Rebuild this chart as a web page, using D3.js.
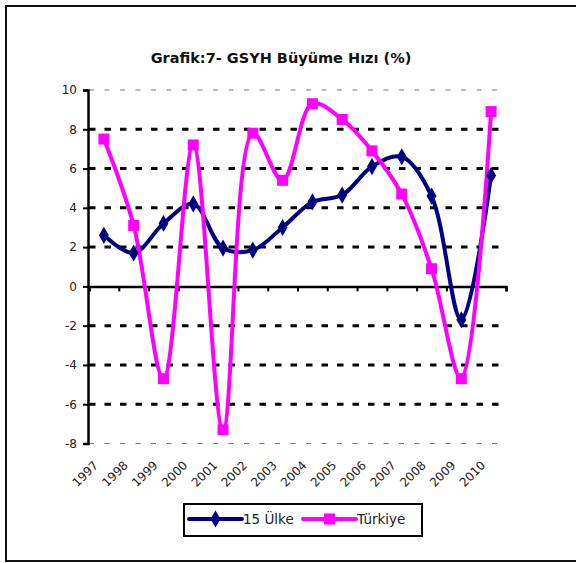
<!DOCTYPE html>
<html>
<head>
<meta charset="utf-8">
<script src="https://cdn.jsdelivr.net/npm/d3@7"></script>
<style>
  body { margin: 0; background: #fff; }
  text { font-family: "DejaVu Sans", sans-serif; }
</style>
</head>
<body>
<div id="chart"></div>
<script>
// Data
var years = ["1997", "1998", "1999", "2000", "2001", "2002", "2003",
             "2004", "2005", "2006", "2007", "2008", "2009", "2010"];
var ulke15 = [2.6, 1.7, 3.2, 4.2, 1.95, 1.85, 3.0, 4.3, 4.65, 6.1, 6.6, 4.6, -1.7, 5.65];
var turkiye = [7.5, 3.1, -4.7, 7.2, -7.3, 7.8, 5.4, 9.3, 8.5, 6.9, 4.7, 0.9, -4.7, 8.9];
var yTicks = [-8, -6, -4, -2, 0, 2, 4, 6, 8, 10];
var seriesNames = ["15 Ülke", "Türkiye"];

// Set up chart
var svgWidth = 576;
var svgHeight = 563;
var plot = { left: 89, right: 506, top: 90, bottom: 443.5 };

var svg = d3.select("#chart")
  .append("svg")
  .attr("width", svgWidth)
  .attr("height", svgHeight);

// outer frame (right edge runs off the picture)
svg.append("rect")
  .attr("x", 6).attr("y", 6)
  .attr("width", 600).attr("height", 555)
  .attr("fill", "none")
  .attr("stroke", "#111")
  .attr("stroke-width", 2);

// title
svg.append("text")
  .attr("x", 281)
  .attr("y", 63)
  .attr("text-anchor", "middle")
  .style("font-size", "14.5px")
  .style("font-weight", "bold")
  .attr("fill", "#111")
  .text("Grafik:7- GSYH Büyüme Hızı (%)");

// Scales
var xBand = d3.scaleBand()
  .domain(years)
  .range([plot.left, plot.right]);
var xTickScale = d3.scaleLinear()
  .domain([0, years.length])
  .range([plot.left, plot.right]);
var yScale = d3.scaleLinear()
  .domain([-8, 10])
  .range([plot.bottom, plot.top]);
var cx = function(d, i) { return xBand(years[i]) + xBand.bandwidth() / 2; };

// gridlines
var grid = svg.append("g");
grid.selectAll("line")
  .data(yTicks.filter(d => d !== 0))
  .enter()
  .append("line")
  .attr("x1", plot.left)
  .attr("x2", plot.right)
  .attr("y1", d => yScale(d))
  .attr("y2", d => yScale(d))
  .attr("stroke", d => (d === 10 || d === -8) ? "#777" : "#000")
  .attr("stroke-width", d => (d === 10 || d === -8) ? 1 : 3)
  .attr("stroke-dasharray", d => (d === 10 || d === -8) ? "5,10.5" : "6.5,9");

// y axis
var leftAxis = d3.axisLeft(yScale)
  .tickValues(yTicks)
  .tickSize(5)
  .tickPadding(6)
  .tickFormat(d => String(d));
var yAxisG = svg.append("g")
  .attr("transform", `translate(${plot.left - 1}, 0)`)
  .call(leftAxis);
yAxisG.select(".domain").attr("stroke", "#000").attr("stroke-width", 2.5);
yAxisG.selectAll(".tick line").attr("stroke", "#000").attr("stroke-width", 2);
yAxisG.selectAll(".tick text")
  .style("font-size", "12px")
  .style("font-family", "DejaVu Sans, sans-serif")
  .attr("fill", "#222");

// x axis at zero, ticks between categories
var bottomAxis = d3.axisBottom(xTickScale)
  .tickValues(d3.range(years.length + 1))
  .tickSize(5)
  .tickFormat("");
var xAxisG = svg.append("g")
  .attr("transform", `translate(0, ${yScale(0)})`)
  .call(bottomAxis);
xAxisG.select(".domain").attr("stroke", "#000").attr("stroke-width", 2.5);
xAxisG.selectAll(".tick line").attr("stroke", "#000").attr("stroke-width", 2);

// category labels at the bottom of the plot
svg.append("g")
  .selectAll("text")
  .data(years)
  .enter()
  .append("text")
  .attr("transform", d => `translate(${xBand(d) + xBand.bandwidth() / 2 - 5}, 466) rotate(-45)`)
  .attr("text-anchor", "end")
  .style("font-size", "12px")
  .attr("fill", "#222")
  .text(d => d);

// lines
var line = d3.line()
  .x(cx)
  .y(d => yScale(d))
  .curve(d3.curveCatmullRom.alpha(0.5));

svg.append("path")
  .datum(ulke15)
  .attr("d", line)
  .attr("fill", "none")
  .attr("stroke", "#000080")
  .attr("stroke-width", 4)
  .attr("stroke-linejoin", "round");

svg.append("path")
  .datum(turkiye)
  .attr("d", line)
  .attr("fill", "none")
  .attr("stroke", "#ff00ff")
  .attr("stroke-width", 4)
  .attr("stroke-linejoin", "round");

// markers
var diamond = d3.symbol().type(d3.symbolDiamond).size(85);
svg.append("g")
  .selectAll("path")
  .data(ulke15)
  .enter()
  .append("path")
  .attr("d", diamond)
  .attr("transform", (d, i) => `translate(${cx(d, i)}, ${yScale(d)})`)
  .attr("fill", "#000080");

svg.append("g")
  .selectAll("rect")
  .data(turkiye)
  .enter()
  .append("rect")
  .attr("x", (d, i) => cx(d, i) - 5.5)
  .attr("y", d => yScale(d) - 5.5)
  .attr("width", 11)
  .attr("height", 11)
  .attr("fill", "#ff00ff");

// legend
var legend = svg.append("g");
legend.append("rect")
  .attr("x", 184).attr("y", 504)
  .attr("width", 238).attr("height", 32)
  .attr("fill", "#fff")
  .attr("stroke", "#000")
  .attr("stroke-width", 2);

legend.append("line")
  .attr("x1", 189).attr("x2", 242)
  .attr("y1", 519).attr("y2", 519)
  .attr("stroke", "#000080").attr("stroke-width", 4).attr("stroke-linecap", "round");
legend.append("path")
  .attr("d", diamond)
  .attr("transform", "translate(215.5, 519)")
  .attr("fill", "#000080");
legend.append("text")
  .attr("x", 243).attr("y", 524)
  .style("font-size", "13.5px")
  .attr("fill", "#222")
  .text(seriesNames[0]);

legend.append("line")
  .attr("x1", 303).attr("x2", 356)
  .attr("y1", 519).attr("y2", 519)
  .attr("stroke", "#ff00ff").attr("stroke-width", 4).attr("stroke-linecap", "round");
legend.append("rect")
  .attr("x", 324).attr("y", 513.5)
  .attr("width", 11).attr("height", 11)
  .attr("fill", "#ff00ff");
legend.append("text")
  .attr("x", 357).attr("y", 524)
  .style("font-size", "13.5px")
  .attr("fill", "#222")
  .text(seriesNames[1]);
</script>
</body>
</html>
